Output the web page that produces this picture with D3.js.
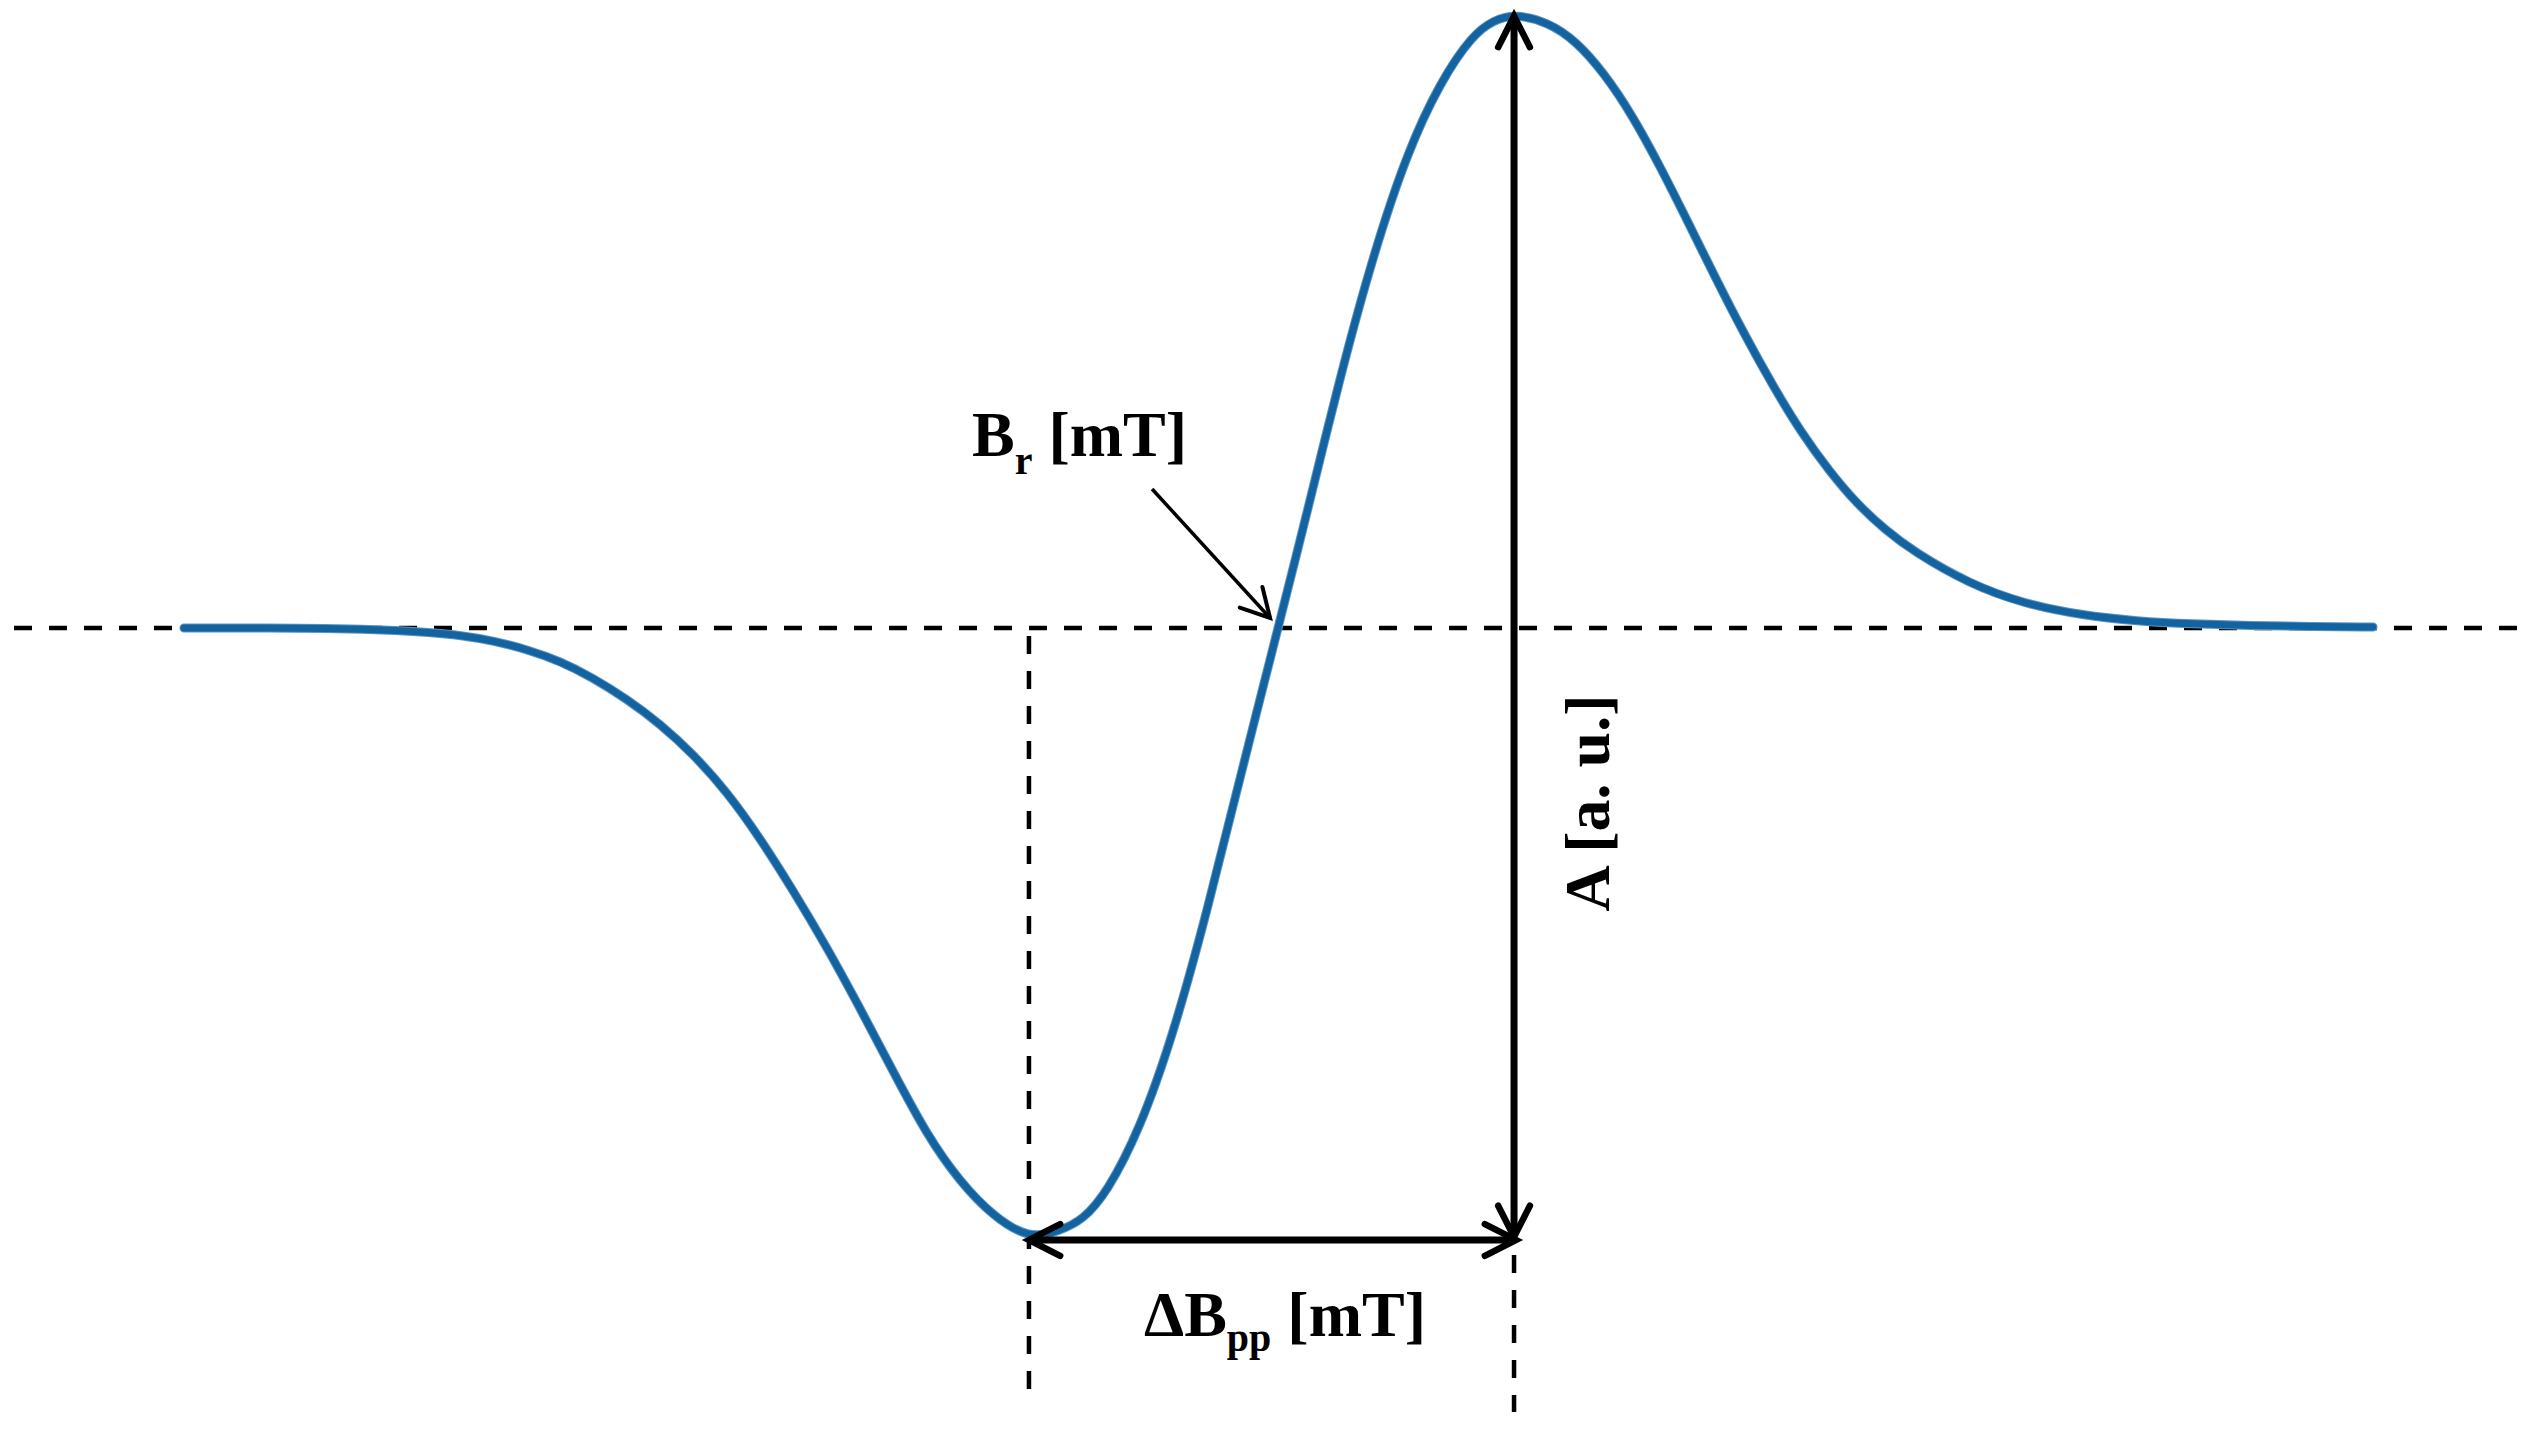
<!DOCTYPE html>
<html>
<head>
<meta charset="utf-8">
<script src="https://cdn.jsdelivr.net/npm/d3@7"></script>
<style>
  html, body { margin: 0; padding: 0; background: #ffffff; }
  svg { display: block; }
  text { font-family: "Liberation Serif", "Times New Roman", serif; font-weight: bold; fill: #000; }
</style>
</head>
<body>
<svg id="chart" width="2534" height="1430"></svg>
<script>
// Magnetic field (arbitrary units, 0..100) and first-derivative EPR signal amplitude (a.u.)
const fieldValues = [0, 4.0, 6.62, 8.13, 9.64, 11.15, 12.65, 14.16, 15.67, 17.18,
  18.68, 20.24, 21.75, 23.25, 24.81, 26.31, 27.82, 29.37, 30.88, 32.39,
  33.94, 35.45, 36.96, 38.6, 40.0, 41.07, 42.17, 43.67, 45.18, 46.73,
  48.24, 49.98, 51.3, 52.81, 54.32, 55.87, 57.38, 58.88, 59.85, 60.76,
  62.31, 63.59, 64.87, 66.15, 67.43, 68.71, 69.99, 71.27, 72.59, 73.87,
  75.15, 76.43, 77.71, 78.99, 81.54, 84.1, 86.66, 89.22, 91.78, 94.38,
  97.12, 100];
const signalValues = [0, 0, -0.001, -0.002, -0.004, -0.007, -0.012, -0.021, -0.035, -0.054,
  -0.081, -0.116, -0.156, -0.205, -0.267, -0.342, -0.427, -0.52, -0.619, -0.722,
  -0.826, -0.902, -0.958, -0.995, -0.982, -0.964, -0.919, -0.816, -0.664, -0.463,
  -0.244, 0, 0.187, 0.409, 0.607, 0.774, 0.889, 0.967, 0.99, 1.0,
  0.987, 0.956, 0.904, 0.836, 0.752, 0.661, 0.568, 0.479, 0.394, 0.319,
  0.256, 0.202, 0.16, 0.125, 0.072, 0.039, 0.021, 0.011, 0.0065, 0.004,
  0.0025, 0.0016];
const resonanceField = 49.98;
const labelBr = ["B", "r", " [mT]"];
const labelDeltaB = ["\u0394B", "pp", " [mT]"];
const labelAmplitude = "A [a. u.]";

const svg = d3.select("#chart");
const W = 2534, H = 1430;

const x = d3.scaleLinear().domain([0, 100]).range([184, 2373]);
const y = d3.scaleLinear().domain([0, 1]).range([628, 14]);

const data = fieldValues.map((f, i) => ({ f, s: signalValues[i] }));
const minPt = data.reduce((a, b) => (b.s < a.s ? b : a));
const maxPt = data.reduce((a, b) => (b.s > a.s ? b : a));

const dash = "18,17";
const dashW = 4.5;

// baseline
svg.append("line")
  .attr("x1", 14).attr("x2", W - 10)
  .attr("y1", y(0)).attr("y2", y(0))
  .attr("stroke", "#000").attr("stroke-width", dashW).attr("stroke-dasharray", dash);

// vertical dashed at min position
svg.append("line")
  .attr("x1", x(minPt.f)).attr("x2", x(minPt.f))
  .attr("y1", y(0) + 8).attr("y2", 1398)
  .attr("stroke", "#000").attr("stroke-width", dashW).attr("stroke-dasharray", dash);

// vertical dashed at max position (below arrow)
svg.append("line")
  .attr("x1", x(maxPt.f)).attr("x2", x(maxPt.f))
  .attr("y1", y(minPt.s) + 16).attr("y2", 1412)
  .attr("stroke", "#000").attr("stroke-width", dashW).attr("stroke-dasharray", dash);

// curve
const line = d3.line().x(d => x(d.f)).y(d => y(d.s)).curve(d3.curveBasis);
svg.append("path")
  .datum(data)
  .attr("d", line)
  .attr("fill", "none")
  .attr("stroke", "#5d93c0")
  .attr("stroke-width", 9)
  .attr("stroke-linecap", "round");
svg.append("path")
  .datum(data)
  .attr("d", line)
  .attr("fill", "none")
  .attr("stroke", "#1363a0")
  .attr("stroke-width", 7)
  .attr("stroke-linecap", "round");

function arrowHead(tx, ty, angle, len, spread, width) {
  const a1 = angle + Math.PI - spread, a2 = angle + Math.PI + spread;
  svg.append("path")
    .attr("d", `M${tx + len * Math.cos(a1)},${ty + len * Math.sin(a1)} L${tx},${ty} L${tx + len * Math.cos(a2)},${ty + len * Math.sin(a2)}`)
    .attr("fill", "none").attr("stroke", "#000")
    .attr("stroke-width", width).attr("stroke-linecap", "round").attr("stroke-linejoin", "miter");
}

// horizontal double arrow (ΔBpp)
const hy = y(minPt.s) + 1;
const hx1 = x(minPt.f), hx2 = x(maxPt.f) + 2;
svg.append("line").attr("x1", hx1 + 3).attr("x2", hx2 - 3).attr("y1", hy).attr("y2", hy)
  .attr("stroke", "#000").attr("stroke-width", 7);
arrowHead(hx1, hy, Math.PI, 35, 0.47, 6.5);
arrowHead(hx2, hy, 0, 35, 0.47, 6.5);

// vertical double arrow (A)
const vx = x(maxPt.f);
const vy1 = y(maxPt.s) + 2, vy2 = y(minPt.s) - 2;
svg.append("line").attr("x1", vx).attr("x2", vx).attr("y1", vy1 + 3).attr("y2", vy2 - 3)
  .attr("stroke", "#000").attr("stroke-width", 7);
arrowHead(vx, vy1, -Math.PI / 2, 35, 0.47, 6.5);
arrowHead(vx, vy2, Math.PI / 2, 35, 0.47, 6.5);

// Br annotation arrow
const tipX = x(resonanceField) - 8, tipY = y(0) - 10;
const startX = tipX - 118, startY = tipY - 129;
svg.append("line").attr("x1", startX).attr("y1", startY).attr("x2", tipX).attr("y2", tipY)
  .attr("stroke", "#000").attr("stroke-width", 3.5);
arrowHead(tipX, tipY, Math.atan2(tipY - startY, tipX - startX), 32, 0.5, 4);

// Labels
function subLabel(parts, tx, ty, shift) {
  const t = svg.append("text").attr("x", tx).attr("y", ty).style("font-size", "64px");
  t.append("tspan").text(parts[0]);
  t.append("tspan").text(parts[1]).style("font-size", "40px").attr("dy", shift);
  t.append("tspan").text(parts[2]).attr("dy", -shift);
}
subLabel(labelBr, 972, 456, 18);
subLabel(labelDeltaB, 1144, 1336, 15);

svg.append("text")
  .attr("transform", `translate(${x(maxPt.f) + 95},803) rotate(-90)`)
  .attr("text-anchor", "middle")
  .style("font-size", "64px")
  .text(labelAmplitude);
</script>
</body>
</html>
